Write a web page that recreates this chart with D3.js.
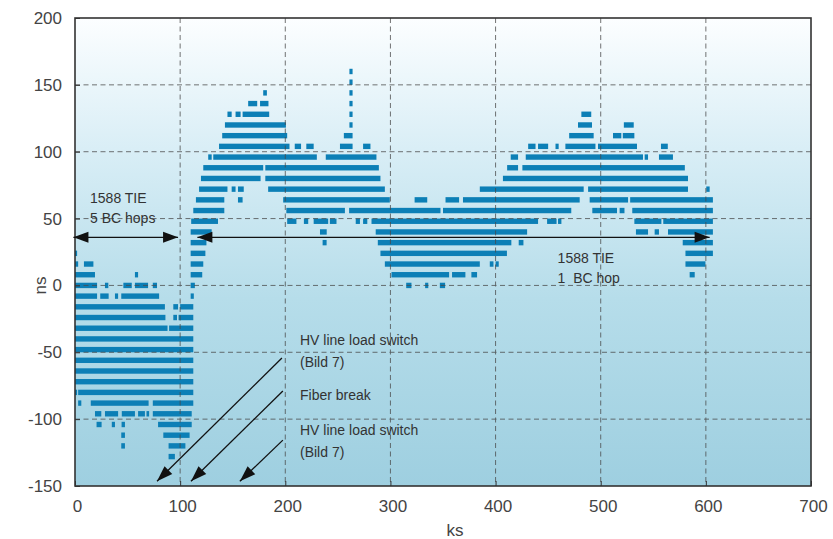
<!DOCTYPE html>
<html><head><meta charset="utf-8">
<script src="https://cdn.jsdelivr.net/npm/d3@7/dist/d3.min.js"></script>
<style>
body{margin:0;background:#fff;}
svg{display:block;font-family:"Liberation Sans",Arial,Helvetica,sans-serif;}
</style>
</head><body>
<svg id="chart" width="833" height="539"></svg>
<script>
// ---- data ----
const xTicks = [0, 100, 200, 300, 400, 500, 600, 700];
const yTicks = [-150, -100, -50, 0, 50, 100, 150, 200];
const xLabel = "ks";
const yLabel = "ns";

// TIE levels (ns), quantized in 8 ns steps
const levels = [160,152,144,136,128,120,112,104,96,88,80,72,64,56,48,40,32,24,16,8,0,-8,-16,-24,-32,-40,-48,-56,-64,-72,-80,-88,-96,-104,-112,-120,-128];
// occupied time spans (ks) for each level, same order as levels
const spans = [
  [[261,264]],
  [[261,264]],
  [[179,182.5],[261,264]],
  [[164.7,173.3],[176,184],[261,264]],
  [[145,149],[152.7,157.5],[159.4,184.7],[261,264],[481.6,491]],
  [[142.6,200.6],[261,264],[478.4,491.7],[522,531.4]],
  [[140,201.8],[255.7,264],[470,493.3],[511.7,519.6],[521,532]],
  [[137,204],[209,215],[220,227],[252,264],[274,281],[431,438],[440.4,450],[457,460],[466.4,495],[497.4,534.5],[557.3,563.8]],
  [[126.7,130],[131.5,230],[238.5,286.7],[414.4,421.4],[428.7,540.2],[541.8,545],[555.4,568.7]],
  [[122,179],[181,289],[411,421.4],[425.5,580]],
  [[119.8,176.5],[181,290.5],[407,583]],
  [[118,145],[149,152.7],[155,160.5],[183.7,294.7],[385,483.8],[488,583],[600.4,603.6]],
  [[115,142],[155,159.4],[198,299.4],[323,335],[352.4,365.3],[369,480],[489.5,526],[528,606.7]],
  [[112.5,142],[201,256.7],[260.7,347.6],[350,472],[492,515.5],[518,522.6],[530,606.7]],
  [[110.5,136],[201.8,210.6],[217.7,221.8],[227,240.8],[242.4,248.7],[267,271],[274,278],[282,440.4],[449,458],[459.4,462.6],[532,557.7],[559.5,606.7]],
  [[110,130],[233,239.4],[286,430],[533.5,545],[551.3,555.4],[564,606.7]],
  [[110,125],[235.5,239.3],[288,415],[422,426.5],[578,606.7]],
  [[0,2],[110,124],[290.5,410.8],[580.6,606.7]],
  [[0,3],[8.5,17.5],[110,122],[294.7,385],[394.5,398],[400,403],[580.6,599.6]],
  [[0,19],[57,60],[110,121],[301,355.8],[358.6,371.3],[377,382.4],[584.6,589.4]],
  [[0,21],[28.5,31.7],[46,54],[57,69.5],[74,78],[110,114],[315,320],[333,336],[347,352]],
  [[0,21],[24,32],[38,41],[44,80],[110,113]],
  [[0,85.5],[93.5,98],[100,112.5]],
  [[0,86],[93.5,97],[98.5,112.5]],
  [[0,88],[89.5,112.5]],
  [[0,112.5]],
  [[0,112.5]],
  [[0,112.5]],
  [[0,112.5]],
  [[0,112.5]],
  [[0,2],[3,112.5]],
  [[3,6],[15,70],[74,112.5]],
  [[19,25],[28.5,41],[44.5,57],[60,66.5],[68,70.5],[74,111]],
  [[20.5,25.3],[35,38],[44.3,47.5],[79,111]],
  [[44,47.5],[84,109]],
  [[44,47.5],[89,105]],
  [[89,95]]
];

// span arrows: [x0, x1, y]
const spanArrows = [[-1.5, 98, 36], [116.4, 603.6, 36]];
const spanTexts = [
  {lines:["1588 TIE","5 BC hops"], x:14.3, y:62},
  {lines:["1588 TIE","1  BC hop"], x:459, y:17}
];
// event annotation arrows: [fromX, fromY, toX, toY]
const eventArrows = [[196.8,-54.3,78,-146.5],[197.7,-79,110.3,-146.5],[197.7,-115.7,156.8,-146.5]];
const eventTexts = ["HV line load switch","(Bild 7)","Fiber break","HV line load switch","(Bild 7)"];
const eventTextY = [-44.5,-61,-85.5,-111.5,-128];
const eventTextX = 214;

// ---- chart ----
const W = 833, H = 539;
const m = {left:75, right:22, top:18, bottom:53};
const iw = W - m.left - m.right, ih = H - m.top - m.bottom;
const svg = d3.select("#chart");
const defs = svg.append("defs");
const grad = defs.append("linearGradient").attr("id","bg").attr("x1",0).attr("y1",0).attr("x2",0).attr("y2",1);
[[0,"#fcfeff"],[0.28,"#d9eef6"],[0.6,"#b6ddea"],[1,"#9ecfe0"]].forEach(s=>grad.append("stop").attr("offset",s[0]).attr("stop-color",s[1]));

const g = svg.append("g").attr("transform",`translate(${m.left},${m.top})`);
const x = d3.scaleLinear().domain([0,700]).range([0,iw]);
const y = d3.scaleLinear().domain([-150,200]).range([ih,0]);

g.append("rect").attr("width",iw).attr("height",ih).attr("fill","url(#bg)");

// bars
const segs = [];
levels.forEach((lv,i)=>spans[i].forEach(s=>segs.push({lv, a:s[0], b:s[1]})));
const bh = 5.4;
g.append("g").selectAll("rect").data(segs).join("rect")
  .attr("x",d=>x(d.a)).attr("width",d=>Math.max(1,x(d.b)-x(d.a)))
  .attr("y",d=>y(d.lv)-bh/2).attr("height",bh)
  .attr("fill","#0c7fb6");

// grid
const grid = g.append("g").attr("stroke","#4a4a4a").attr("stroke-width",0.9).attr("stroke-dasharray","5,3.5").attr("opacity",0.85);
xTicks.filter(t=>t>0&&t<700).forEach(t=>grid.append("line").attr("x1",x(t)).attr("x2",x(t)).attr("y1",0).attr("y2",ih));
yTicks.filter(t=>t>-150&&t<200).forEach(t=>grid.append("line").attr("y1",y(t)).attr("y2",y(t)).attr("x1",0).attr("x2",iw));

// axes
const fmt = d => String(d);
const xa = g.append("g").attr("transform",`translate(0,${ih})`)
  .call(d3.axisBottom(x).tickValues(xTicks).tickFormat(fmt).tickSize(-5).tickPadding(14));
const ya = g.append("g").call(d3.axisLeft(y).tickValues(yTicks).tickFormat(fmt).tickSize(-5).tickPadding(13));
[xa,ya].forEach(a=>{
  a.select(".domain").remove();
  a.selectAll(".tick line").attr("stroke","#333");
  a.selectAll(".tick text").attr("fill","#444").style("font-size","17px").style("font-family","'Liberation Sans',Arial,sans-serif");
});
xa.selectAll(".tick text").attr("dx","2px");

// frame
g.append("rect").attr("width",iw).attr("height",ih).attr("fill","none").attr("stroke","#333").attr("stroke-width",1.6);

svg.append("text").attr("x",455).attr("y",536).attr("text-anchor","middle")
  .attr("fill","#444").style("font-size","17px").text(xLabel);
svg.append("text").attr("transform",`translate(46,${m.top+y(0)}) rotate(-90)`).attr("text-anchor","middle")
  .attr("fill","#444").style("font-size","17px").text(yLabel);

// arrow helper
function arrow(x1,y1,x2,y2,len,hw,both){
  g.append("line").attr("x1",x1).attr("y1",y1).attr("x2",x2).attr("y2",y2)
    .attr("stroke","#111").attr("stroke-width",1.3);
  const head=(tx,ty,fx,fy)=>{
    const dx=tx-fx, dy=ty-fy, L=Math.hypot(dx,dy), ux=dx/L, uy=dy/L;
    const bx=tx-ux*len, by=ty-uy*len;
    g.append("path").attr("d",`M${tx},${ty}L${bx-uy*hw},${by+ux*hw}L${bx+uy*hw},${by-ux*hw}Z`).attr("fill","#111");
  };
  head(x2,y2,x1,y1);
  if(both) head(x1,y1,x2,y2);
}
spanArrows.forEach(a=>arrow(x(a[0]),y(a[2]),x(a[1]),y(a[2]),15,5.5,true));
eventArrows.forEach(a=>arrow(x(a[0]),y(a[1]),x(a[2]),y(a[3]),16,5.5,false));

// texts
spanTexts.forEach(t=>{
  t.lines.forEach((s,i)=>g.append("text").attr("x",x(t.x)).attr("y",y(t.y)+i*20.5)
    .attr("fill","#333").style("font-size","14px").style("white-space","pre").text(s));
});
eventTexts.forEach((s,i)=>g.append("text").attr("x",x(eventTextX)).attr("y",y(eventTextY[i]))
  .attr("fill","#333").style("font-size","14px").text(s));
</script>
</body></html>
